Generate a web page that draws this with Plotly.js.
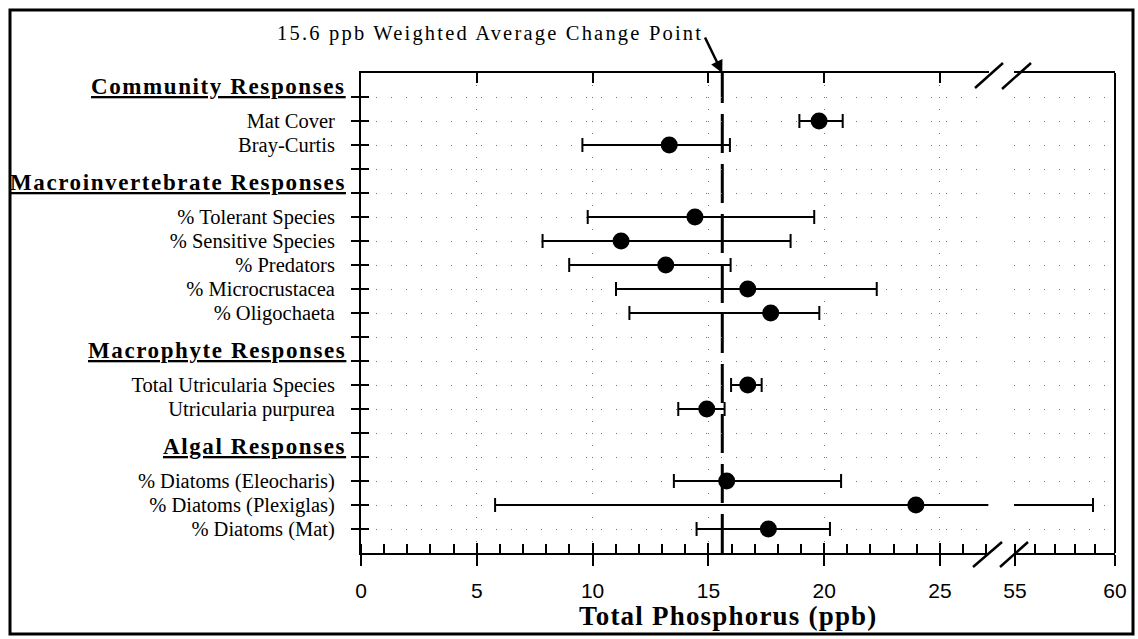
<!DOCTYPE html>
<html>
<head>
<meta charset="utf-8">
<script src="https://cdn.plot.ly/plotly-3.0.1.min.js"></script>
<style>html,body{margin:0;padding:0;background:#fff;}#chart{width:1138px;height:639px;}</style>
</head>
<body>
<div id="chart"></div>
<script>
// ---- data ----
const itemLabels = ['Mat Cover','Bray-Curtis','% Tolerant Species','% Sensitive Species','% Predators',
  '% Microcrustacea','% Oligochaeta','Total Utricularia Species','Utricularia purpurea',
  '% Diatoms (Eleocharis)','% Diatoms (Plexiglas)','% Diatoms (Mat)'];
const itemRows = [18,17,14,13,12,11,10,7,6,3,2,1];
const estimate = [19.78,13.31,14.42,11.23,13.16,16.7,17.69,16.7,14.93,15.79,23.96,17.59];
const lowerCI  = [18.93,9.56,9.79,7.84,8.99,11.01,11.59,15.98,13.7,13.51,5.79,14.49];
const upperCI  = [20.8,15.93,19.57,18.55,15.96,22.27,19.79,17.3,15.7,20.73,58.9,20.25];
const headerLabels = ['Community Responses','Macroinvertebrate Responses','Macrophyte Responses','Algal Responses'];
const headerRows = [19,15,8,4];
const changePoint = [15.6];
const leftTicks = [0,5,10,15,20,25];
const rightTicks = [55,60];
const leftRange = [0,27.1];
const rightRange = [54.95,60];

// ---- build traces ----
const SERIF = 'Liberation Serif, Times New Roman, serif';
const SANS = 'Liberation Sans, Arial, sans-serif';
const lx=[], ly=[], cx=[], cy=[], rx=[], ry=[], rcx=[], rcy=[];
for (let i=0;i<estimate.length;i++){
  const y = itemRows[i];
  const hiL = Math.min(upperCI[i], leftRange[1]);
  lx.push(lowerCI[i], hiL, null); ly.push(y, y, null);
  cx.push(lowerCI[i]); cy.push(y);
  if (upperCI[i] <= leftRange[1]) { cx.push(upperCI[i]); cy.push(y); }
  else {
    rx.push(rightRange[0], upperCI[i], null); ry.push(y, y, null);
    rcx.push(upperCI[i]); rcy.push(y);
  }
}
const traces = [
  {type:'scatter', mode:'lines', x:lx, y:ly, xaxis:'x', yaxis:'y', line:{color:'#000', width:2}, hoverinfo:'skip', showlegend:false},
  {type:'scatter', mode:'markers', x:cx, y:cy, xaxis:'x', yaxis:'y', marker:{symbol:'line-ns', size:10, line:{color:'#000', width:2}}, showlegend:false},
  {type:'scatter', mode:'lines', x:rx, y:ry, xaxis:'x2', yaxis:'y', line:{color:'#000', width:2}, showlegend:false},
  {type:'scatter', mode:'markers', x:rcx, y:rcy, xaxis:'x2', yaxis:'y', marker:{symbol:'line-ns', size:10, line:{color:'#000', width:2}}, showlegend:false},
  {type:'scatter', mode:'markers', x:estimate, y:itemRows, xaxis:'x', yaxis:'y', marker:{symbol:'circle', size:17, color:'#000'}, showlegend:false}
];

const tickVals=[], tickText=[];
for (let r=1;r<=19;r++){ tickVals.push(r); const k=itemRows.indexOf(r); tickText.push(k>=0?itemLabels[k]:''); }

// pixel helpers for decorations (paper coordinates)
const L=361, R=1115, T=73, B=553;
const px = v => (v-L)/(R-L);
const py = v => (B-v)/(B-T);

const annotations = headerLabels.map((t,i)=>({
  text:'<span style="letter-spacing:1.6px">'+t+'</span>', xref:'paper', yref:'y', x:px(348), y:headerRows[i], yshift:11,
  xanchor:'right', yanchor:'middle', showarrow:false,
  font:{family:SERIF, size:23, color:'#000', weight:'bold', lineposition:'under'}
}));
annotations.push({
  text:'<span style="letter-spacing:2.2px">'+changePoint[0]+' ppb Weighted Average Change Point</span>',
  xref:'paper', yref:'paper', x:px(490), y:py(33), xanchor:'center', yanchor:'middle', showarrow:false,
  font:{family:SERIF, size:20.5, color:'#000'}
});
annotations.push({
  text:'', xref:'x', yref:'paper', x:changePoint[0], y:1, ax:-18, ay:-37, showarrow:true,
  arrowhead:2, arrowsize:1, arrowwidth:2.5, arrowcolor:'#000'
});
annotations.push({
  text:'<span style="letter-spacing:1.2px">Total Phosphorus (ppb)</span>', xref:'paper', yref:'paper', x:px(728), y:py(616),
  xanchor:'center', yanchor:'middle', showarrow:false,
  font:{family:SERIF, size:27, color:'#000', weight:'bold'}
});

const shapes = [
  {type:'line', xref:'x', yref:'paper', x0:changePoint[0], x1:changePoint[0], y0:0, y1:1, layer:'below',
   line:{color:'#000', width:3, dash:'39px,11px'}},
  {type:'line', xref:'paper', yref:'paper', x0:1, x1:1, y0:0, y1:1, line:{color:'#000', width:2}},
  // axis break slashes
  {type:'line', xref:'paper', yref:'paper', x0:px(975), y0:py(88), x1:px(1003), y1:py(63), line:{color:'#000', width:2.5}},
  {type:'line', xref:'paper', yref:'paper', x0:px(1002), y0:py(89), x1:px(1031), y1:py(63), line:{color:'#000', width:2.5}},
  {type:'line', xref:'paper', yref:'paper', x0:px(973), y0:py(567), x1:px(1002), y1:py(542), line:{color:'#000', width:2.5}},
  {type:'line', xref:'paper', yref:'paper', x0:px(1000), y0:py(567), x1:px(1028), y1:py(542), line:{color:'#000', width:2.5}},
  // outer frame
  {type:'rect', xref:'paper', yref:'paper', x0:px(10), y0:py(634), x1:px(1133), y1:py(10), line:{color:'#000', width:3}}
];

const gridCol = '#777';
const layout = {
  width:1138, height:639,
  margin:{l:L, r:1138-R, t:T, b:639-B, pad:0},
  paper_bgcolor:'#fff', plot_bgcolor:'#fff',
  showlegend:false,
  xaxis:{domain:[0, px(988.6)], range:leftRange, anchor:'y',
    showline:true, linewidth:2, linecolor:'#000', zeroline:false,
    tickmode:'array', tickvals:leftTicks, ticks:'outside', ticklen:11, tickwidth:2, tickcolor:'#000',
    ticklabelstandoff:7,
    minor:{dtick:1, ticks:'inside', ticklen:9, tickwidth:2, tickcolor:'#000', showgrid:false},
    showgrid:true, gridcolor:gridCol, gridwidth:1, griddash:'1px,11px',
    tickfont:{family:SANS, size:21, color:'#000'}},
  xaxis3:{domain:[0, px(988.6)], range:leftRange, anchor:'y', overlaying:'x',
    showline:true, linewidth:2, linecolor:'#000', mirror:'ticks', zeroline:false,
    tickmode:'array', tickvals:leftTicks.slice(1), ticks:'inside', ticklen:10, tickwidth:2, tickcolor:'#000',
    showticklabels:false, showgrid:false},
  xaxis2:{domain:[px(1014), 1], range:rightRange, anchor:'y',
    showline:true, linewidth:2, linecolor:'#000', mirror:true, zeroline:false,
    tickmode:'array', tickvals:rightTicks, ticks:'outside', ticklen:11, tickwidth:2, tickcolor:'#000',
    ticklabelstandoff:7,
    minor:{dtick:1, ticks:'inside', ticklen:9, tickwidth:2, tickcolor:'#000', showgrid:false},
    showgrid:true, gridcolor:gridCol, gridwidth:1, griddash:'1px,11px',
    tickfont:{family:SANS, size:21, color:'#000'}},
  yaxis:{domain:[0,1], range:[0,20], anchor:'x',
    showline:true, linewidth:2, linecolor:'#000', zeroline:false,
    tickmode:'array', tickvals:tickVals, ticktext:tickText, ticks:'outside', ticklen:8, tickwidth:2, tickcolor:'#000',
    ticklabelstandoff:12,
    showgrid:true, gridcolor:gridCol, gridwidth:1, griddash:'1px,14px',
    tickfont:{family:SERIF, size:20.5, color:'#000'}},
  yaxis2:{domain:[0,1], range:[0,20], anchor:'x', overlaying:'y',
    showline:false, zeroline:false, tickmode:'array', tickvals:tickVals, ticks:'inside', ticklen:8, tickwidth:2, tickcolor:'#000',
    showticklabels:false, showgrid:false},
  annotations:annotations,
  shapes:shapes
};
// empty traces to activate overlay axes
traces.push({type:'scatter', mode:'markers', x:[], y:[], xaxis:'x3', yaxis:'y', showlegend:false, hoverinfo:'skip'});
traces.push({type:'scatter', mode:'markers', x:[], y:[], xaxis:'x', yaxis:'y2', showlegend:false, hoverinfo:'skip'});
Plotly.newPlot('chart', traces, layout, {displayModeBar:false, staticPlot:true});
</script>
</body>
</html>
